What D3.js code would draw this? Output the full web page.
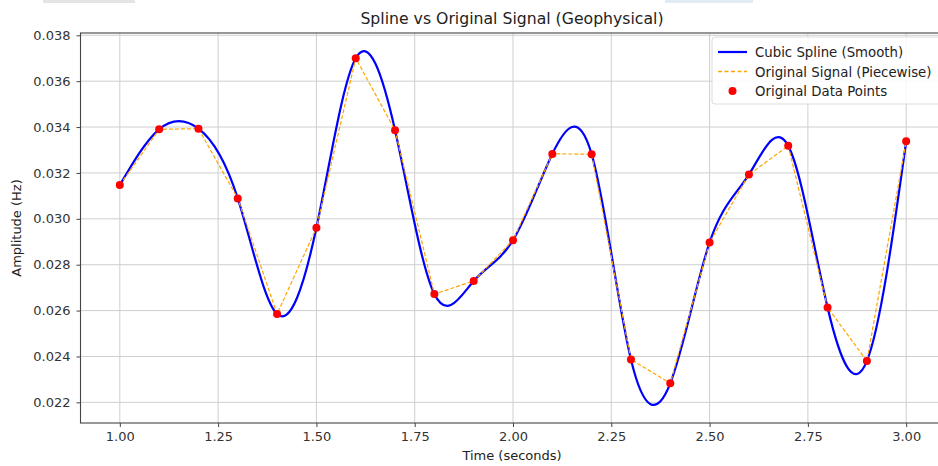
<!DOCTYPE html>
<html>
<head>
<meta charset="utf-8">
<script src="https://cdn.jsdelivr.net/npm/d3@7"></script>
<style>
  body { margin: 0; background: #fff; }
  svg { display: block; font-family: "DejaVu Sans", sans-serif; }
</style>
</head>
<body>
<svg id="chart" width="938" height="466"></svg>
<script>
// sample times (s) and measured amplitude (Hz)
const times = [1.0, 1.1, 1.2, 1.3, 1.4, 1.5, 1.6, 1.7, 1.8, 1.9, 2.0,
               2.1, 2.2, 2.3, 2.4, 2.5, 2.6, 2.7, 2.8, 2.9, 3.0];
const amplitudes = [0.03147, 0.03390, 0.03393, 0.03089, 0.02585, 0.02961, 0.03700,
                    0.03386, 0.02672, 0.02729, 0.02907, 0.03283, 0.03282, 0.02387,
                    0.02283, 0.02897, 0.03193, 0.03318, 0.02614, 0.02380, 0.03338];
const xTicks = [1.0, 1.25, 1.5, 1.75, 2.0, 2.25, 2.5, 2.75, 3.0];
const yTicks = [0.022, 0.024, 0.026, 0.028, 0.030, 0.032, 0.034, 0.036, 0.038];
const legendLabels = ["Cubic Spline (Smooth)", "Original Signal (Piecewise)", "Original Data Points"];

const points = times.map((t, i) => ({ t, a: amplitudes[i] }));

const svg = d3.select("#chart");
const plotLeft = 80.5, plotRight = 945.5, plotTop = 33, plotBottom = 423;

const x = d3.scaleLinear().domain([0.9, 3.1]).range([plotLeft, plotRight]);
const y = d3.scaleLinear().domain([0.0211, 0.0381]).range([plotBottom, plotTop]);

// faint strips along the top edge of the screenshot
svg.append("rect").attr("x", 43).attr("y", 0).attr("width", 92).attr("height", 3).attr("fill", "#e4e4e4");
svg.append("rect").attr("x", 665).attr("y", 0).attr("width", 88).attr("height", 3).attr("fill", "#e2eaf4");

// grid
const grid = svg.append("g").attr("stroke", "#cfcfcf").attr("stroke-width", 1);
grid.selectAll("line.gx").data(xTicks).join("line")
  .attr("x1", d => x(d)).attr("x2", d => x(d))
  .attr("y1", plotTop).attr("y2", plotBottom);
grid.selectAll("line.gy").data(yTicks).join("line")
  .attr("y1", d => y(d)).attr("y2", d => y(d))
  .attr("x1", plotLeft).attr("x2", plotRight);

// series
svg.append("path")
  .datum(points)
  .attr("fill", "none")
  .attr("stroke", "#0000ff")
  .attr("stroke-width", 2.2)
  .attr("d", d3.line().x(d => x(d.t)).y(d => y(d.a)).curve(d3.curveNatural));

svg.append("path")
  .datum(points)
  .attr("fill", "none")
  .attr("stroke", "#ffa500")
  .attr("stroke-width", 1.2)
  .attr("stroke-dasharray", "4,2")
  .attr("d", d3.line().x(d => x(d.t)).y(d => y(d.a)));

svg.append("g").selectAll("circle").data(points).join("circle")
  .attr("cx", d => x(d.t)).attr("cy", d => y(d.a))
  .attr("r", 4).attr("fill", "#ff0000");

// axes
const xAxis = svg.append("g")
  .attr("transform", `translate(0,${plotBottom})`)
  .call(d3.axisBottom(x).tickValues(xTicks).tickFormat(d3.format(".2f")).tickSize(4).tickPadding(5));
const yAxis = svg.append("g")
  .attr("transform", `translate(${plotLeft},0)`)
  .call(d3.axisLeft(y).tickValues(yTicks).tickFormat(d3.format(".3f")).tickSize(4).tickPadding(6));
[xAxis, yAxis].forEach(g => {
  g.select(".domain").remove();
  g.selectAll("line").attr("stroke", "#444");
  g.selectAll("text").attr("font-size", 13).attr("fill", "#333").attr("font-family", "DejaVu Sans");
});

// frame
svg.append("rect")
  .attr("x", plotLeft).attr("y", plotTop)
  .attr("width", plotRight - plotLeft).attr("height", plotBottom - plotTop)
  .attr("fill", "none").attr("stroke", "#444").attr("stroke-width", 1.1);

// labels
svg.append("text")
  .attr("x", 512).attr("y", 24)
  .attr("text-anchor", "middle").attr("font-size", 15.7).attr("fill", "#222")
  .text("Spline vs Original Signal (Geophysical)");
svg.append("text")
  .attr("x", 512).attr("y", 460)
  .attr("text-anchor", "middle").attr("font-size", 13).attr("fill", "#222")
  .text("Time (seconds)");
svg.append("text")
  .attr("transform", "translate(21,228) rotate(-90)")
  .attr("text-anchor", "middle").attr("font-size", 13).attr("fill", "#222")
  .text("Amplitude (Hz)");

// legend
const legend = svg.append("g").attr("transform", "translate(712,37)");
legend.append("rect")
  .attr("width", 236).attr("height", 67).attr("rx", 3)
  .attr("fill", "#fff").attr("fill-opacity", 0.85)
  .attr("stroke", "#dcdcdc");
const rows = legend.selectAll("g.row").data(legendLabels).join("g")
  .attr("transform", (d, i) => `translate(0,${15 + i * 19.5})`);
rows.append("text")
  .attr("x", 43).attr("y", 5)
  .attr("font-size", 13.3).attr("fill", "#222")
  .text(d => d);
legend.append("line").attr("x1", 6).attr("x2", 35).attr("y1", 15).attr("y2", 15)
  .attr("stroke", "#0000ff").attr("stroke-width", 2.2);
legend.append("line").attr("x1", 6).attr("x2", 35).attr("y1", 34.5).attr("y2", 34.5)
  .attr("stroke", "#ffa500").attr("stroke-width", 1.3).attr("stroke-dasharray", "4,2.5");
legend.append("circle").attr("cx", 20.5).attr("cy", 54).attr("r", 4).attr("fill", "#ff0000");
</script>
</body>
</html>
